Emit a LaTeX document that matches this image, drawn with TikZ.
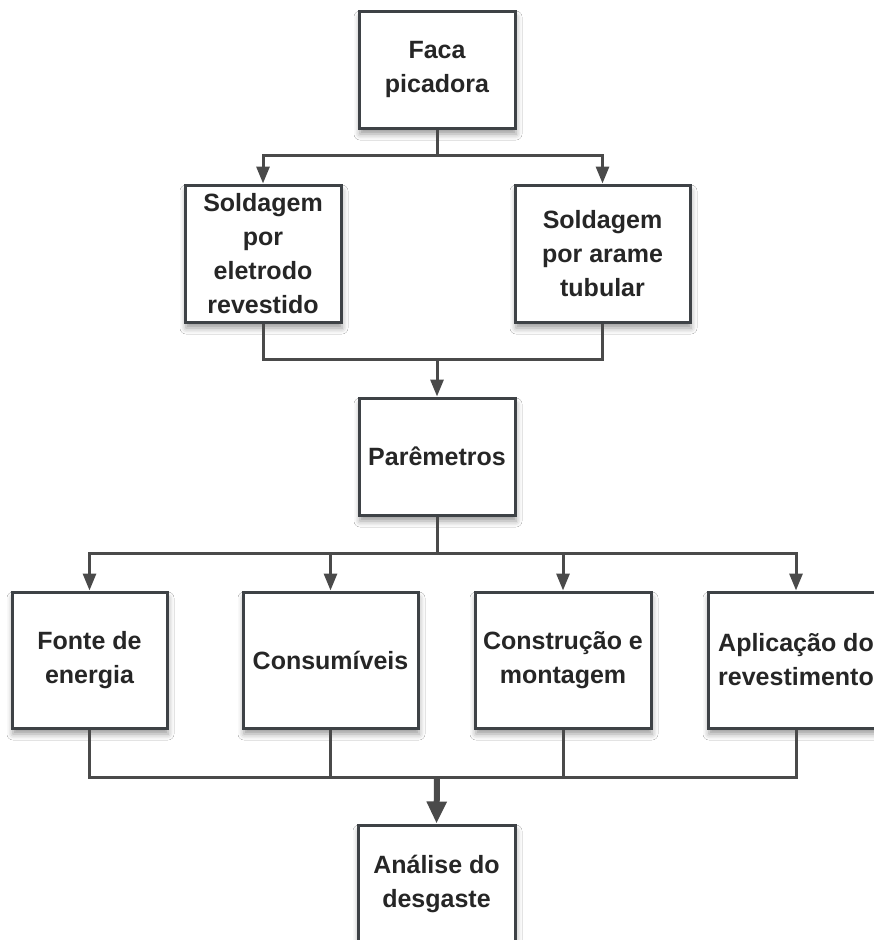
\documentclass[tikz,border=0pt]{standalone}
\usepackage{fontspec}
\setmainfont{Liberation Sans}
\usetikzlibrary{arrows.meta,shadows.blur}
\definecolor{edge}{HTML}{3E4246}
\definecolor{wire}{HTML}{4A4A4A}
\tikzset{
  box/.style={draw=edge, line width=3pt, fill=white, rectangle, align=center,
    inner sep=0pt, font=\bfseries\fontsize{25}{34}\selectfont, text=black!85,
    blur shadow={shadow xshift=1pt, shadow yshift=-6pt, shadow blur radius=6pt, shadow opacity=40}},
  wirel/.style={draw=wire, line width=3pt},
  arr/.style={wirel, -{Triangle[width=13pt,length=17pt]}},
  bigarr/.style={draw=wire, line width=6pt, -{Triangle[width=19pt,length=22pt]}}
}
\begin{document}
\begin{tikzpicture}[x=1pt,y=-1pt]
\useasboundingbox (0,0) rectangle (874,940);
\clip (0,0) rectangle (874,940);
\fill[white] (0,0) rectangle (874,940);
\node[box, minimum width=156pt, minimum height=117pt] (faca) at (437,69.5) {Faca\\picadora};
\node[box, minimum width=156pt, minimum height=137pt] (elet) at (263,253.5) {Soldagem\\por\\eletrodo\\revestido};
\node[box, minimum width=175pt, minimum height=137pt] (aram) at (602.5,253.5) {Soldagem\\por arame\\tubular};
\node[box, minimum width=156pt, minimum height=117pt] (param) at (437,456.5) {Parêmetros};
\node[box, minimum width=155pt, minimum height=136pt] (fonte) at (89.5,660) {Fonte de\\energia};
\node[box, minimum width=175pt, minimum height=136pt] (cons) at (330.5,660) {Consumíveis};
\node[box, minimum width=176pt, minimum height=136pt] (constr) at (563,660) {Construção e\\montagem};
\node[box, minimum width=176pt, minimum height=136pt] (aplic) at (796,660) {Aplicação do\\revestimento};
\node[box, minimum width=157pt, minimum height=118pt] (anal) at (436.5,884) {Análise do\\desgaste};
\coordinate (j1) at (437,155);
\coordinate (j2) at (437,359);
\coordinate (j3) at (437,553);
\coordinate (j4) at (437,777);
\draw[wirel] (faca.south) -- (j1);
\draw[arr] (j1) -| (elet.north);
\draw[arr] (j1) -| (aram.north);
\draw[wirel] (elet.south) |- (j2);
\draw[wirel] (aram.south) |- (j2);
\draw[arr] (j2) -- (param.north);
\draw[wirel] (param.south) -- (j3);
\draw[arr] (j3) -| (fonte.north);
\draw[arr] (j3) -| (cons.north);
\draw[arr] (j3) -| (constr.north);
\draw[arr] (j3) -| (aplic.north);
\draw[wirel] (fonte.south) |- (j4);
\draw[wirel] (cons.south) |- (j4);
\draw[wirel] (constr.south) |- (j4);
\draw[wirel] (aplic.south) |- (j4);
\draw[bigarr] (j4) -- (anal.north);
\end{tikzpicture}
\end{document}
